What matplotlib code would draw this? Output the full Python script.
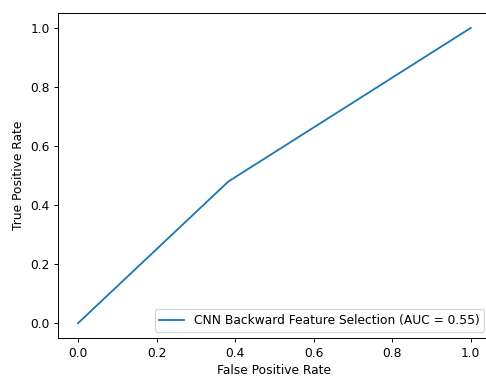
import matplotlib
matplotlib.use("Agg")
from matplotlib import pyplot as plt

# ROC points
fpr = [0.0, 0.383, 1.0]
tpr = [0.0, 0.48, 1.0]
auc_label = "CNN Backward Feature Selection (AUC = 0.55)"

dpi = 88
fig = plt.figure(figsize=(486 / dpi, 376 / dpi), dpi=dpi)
ax = fig.add_axes([0.120, 0.101, 0.889, 0.864])

ax.plot(fpr, tpr, label=auc_label)
ax.set_xlim(-0.05, 1.05)
ax.set_ylim(-0.05, 1.05)
ax.set_xlabel("False Positive Rate")
ax.set_ylabel("True Positive Rate")
ax.legend(loc="lower right")

fig.savefig("out.png", dpi=dpi)
